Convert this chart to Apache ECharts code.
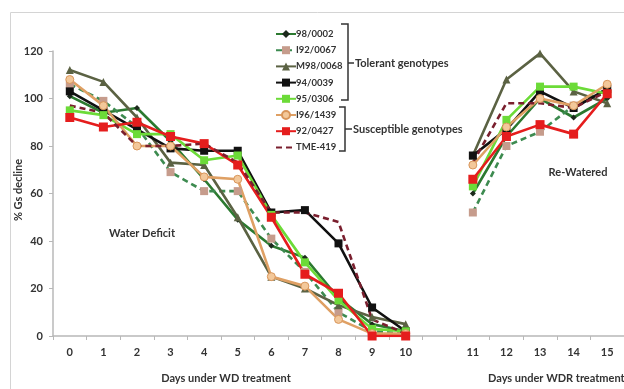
<!DOCTYPE html>
<html><head><meta charset="utf-8">
<script src="https://cdn.jsdelivr.net/npm/echarts@6/dist/echarts.min.js"></script>
<style>html,body{margin:0;padding:0;background:#fff}#c{width:624px;height:389px}</style>
</head><body><div id="c"></div>
<script>
const categories = ['0','1','2','3','4','5','6','7','8','9','10','','11','12','13','14','15'];
const yTicks = [0, 20, 40, 60, 80, 100, 120];
const s98_0002 = [101,94,96,82,66,49,38,33,16,5,2,null,60,84,100,92,100];
const sI92_0067 = [106,99,88,69,61,61,41,27,10,2,1,null,52,80,86,97,104];
const sM98_0068 = [112,107,92,73,72,50,25,20,13,8,5,null,76,108,119,103,98];
const s94_0039 = [103,95,87,79,78,78,52,53,39,12,2,null,76,87,103,96,104];
const s95_0306 = [95,93,85,85,74,76,51,31,15,3,2,null,63,91,105,105,102];
const sI96_1439 = [108,97,80,80,67,66,25,21,7,1,1,null,72,88,100,97,106];
const s92_0427 = [92,88,90,84,81,72,50,26,18,0,0,null,66,84,89,85,102];
const sTME_419 = [97,94,80,80,81,73,52,52,48,7,1,null,73,98,98,96,103];

const FONT = 'Lato, "Liberation Sans", sans-serif';
function mk(name, data, lineColor, symbol, size, fill, border, dashed) {
  return {
    name, type: 'line', data, connectNulls: false,
    symbol, symbolSize: size, showSymbol: symbol !== 'none',
    lineStyle: { color: lineColor, width: 2.6, type: dashed ? [6, 4] : 'solid' },
    itemStyle: { color: fill, borderColor: border || fill, borderWidth: border ? 1 : 0 },
    emphasis: { disabled: true }, animation: false
  };
}
const chart = echarts.init(document.getElementById('c'));
chart.setOption({
  animation: false,
  grid: { left: 53, right: -10, top: 51, bottom: 53, containLabel: false },
  legend: {
    orient: 'vertical', left: 270, top: 24, itemWidth: 20, itemHeight: 10, itemGap: 6.2,
    textStyle: { fontFamily: FONT, fontWeight: 'bold', fontSize: 9.5, color: '#333', padding: [0,0,0,-5] },
    data: ['98/0002','I92/0067','M98/0068','94/0039','95/0306','I96/1439','92/0427',
      { name: 'TME-419', itemStyle: { opacity: 0 } }]
  },
  xAxis: {
    type: 'category', data: categories, boundaryGap: true,
    axisLine: { lineStyle: { color: '#b8b8b8', width: 1.5 } },
    axisTick: { show: true, length: 4, lineStyle: { color: '#b8b8b8' }, interval: 0 },
    axisLabel: { interval: 0, margin: 11, fontFamily: FONT, fontWeight: 'bold', fontSize: 11, color: '#333' }
  },
  yAxis: {
    type: 'value', min: yTicks[0], max: yTicks[yTicks.length - 1], interval: 20,
    axisLine: { show: true, lineStyle: { color: '#b8b8b8', width: 1.5 } },
    axisTick: { show: true, length: 4, lineStyle: { color: '#b8b8b8' } },
    splitLine: { show: false },
    axisLabel: { margin: 10, fontFamily: FONT, fontWeight: 'bold', fontSize: 11, color: '#333' }
  },
  series: [
    mk('98/0002', s98_0002, '#2c7a30', 'diamond', 6, '#1c2a1c'),
    mk('I92/0067', sI92_0067, '#3d8b50', 'rect', 8, '#c69c8c', null, true),
    mk('M98/0068', sM98_0068, '#5b6243', 'triangle', 8, '#5b6243'),
    mk('94/0039', s94_0039, '#111111', 'rect', 8, '#111111'),
    mk('95/0306', s95_0306, '#6cdb38', 'rect', 8, '#6cdb38'),
    mk('I96/1439', sI96_1439, '#dfa064', 'circle', 8, '#f3c89a', '#d8955a'),
    mk('92/0427', s92_0427, '#e51d1d', 'rect', 9, '#e51d1d'),
    mk('TME-419', sTME_419, '#7a1f2e', 'none', 0, '#7a1f2e', null, true)
  ],
  graphic: [
    { type: 'rect', shape: { x: 10.5, y: 12.5, width: 640, height: 400 }, style: { fill: 'none', stroke: '#d4d4d4', lineWidth: 1 }, z: -1 },
    { type: 'polyline', shape: { points: [[341,24],[348,24],[348,100],[341,100]] }, style: { stroke: '#333', lineWidth: 1.5, fill: 'none' } },
    { type: 'line', shape: { x1: 348, y1: 63, x2: 354, y2: 63 }, style: { stroke: '#333', lineWidth: 1.5 } },
    { type: 'text', x: 355, y: 63, style: { text: 'Tolerant genotypes', font: 'bold 11px ' + FONT, fill: '#333', verticalAlign: 'middle' } },
    { type: 'polyline', shape: { points: [[339,107],[345,107],[345,151],[339,151]] }, style: { stroke: '#333', lineWidth: 1.5, fill: 'none' } },
    { type: 'line', shape: { x1: 345, y1: 129, x2: 352, y2: 129 }, style: { stroke: '#333', lineWidth: 1.5 } },
    { type: 'text', x: 353, y: 129, style: { text: 'Susceptible genotypes', font: 'bold 11px ' + FONT, fill: '#333', verticalAlign: 'middle' } },
    { type: 'text', x: 142, y: 233, style: { text: 'Water Deficit', font: 'bold 11px ' + FONT, fill: '#333', align: 'center', verticalAlign: 'middle' } },
    { type: 'text', x: 578, y: 172, style: { text: 'Re-Watered', font: 'bold 11px ' + FONT, fill: '#333', align: 'center', verticalAlign: 'middle' } },
    { type: 'text', x: 226, y: 378, style: { text: 'Days under WD treatment', font: 'bold 11px ' + FONT, fill: '#333', align: 'center', verticalAlign: 'middle' } },
    { type: 'text', x: 488, y: 378, style: { text: 'Days under WDR treatment', font: 'bold 11px ' + FONT, fill: '#333', align: 'left', verticalAlign: 'middle' } },
    { type: 'text', x: 18, y: 190, rotation: Math.PI / 2, style: { text: '% Gs decline', font: 'bold 11px ' + FONT, fill: '#333', align: 'center', verticalAlign: 'middle' } }
  ]
});
</script></body></html>
